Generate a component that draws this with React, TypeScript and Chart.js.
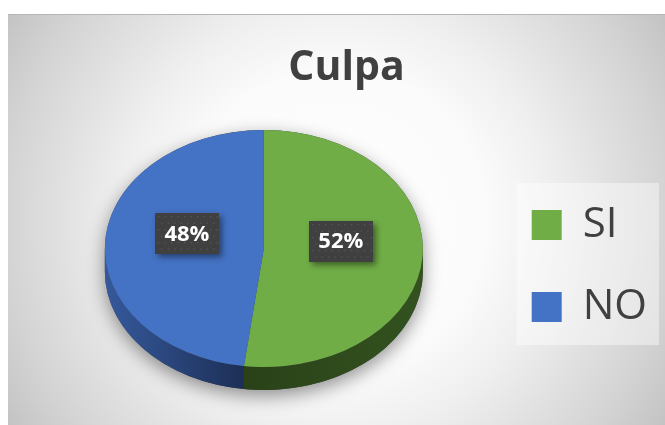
import React, { useEffect, useRef } from "react";
import { Chart, registerables } from "chart.js";

Chart.register(...registerables);

const categories = ["SI", "NO"];
const values = [52, 48];
const chartTitle = "Culpa";

const TOP_COLORS = ["#70AD47", "#4472C4"];
const SIDE_COLORS = [
  ["#2a4118", "#33521f"],
  ["#36599c", "#1c2f56"],
];

const FACE_CY = 248.5;
const SQUASH = 0.745;
const DEPTH = 23;

export default function App() {
  const ref = useRef<HTMLCanvasElement>(null);

  useEffect(() => {
    const canvas = ref.current;
    if (!canvas) return;
    const total = values.reduce((a, b) => a + b, 0);
    const percentLabels = values.map((v) => Math.round((v / total) * 100) + "%");

    const getArcs = (chart: any) =>
      chart
        .getDatasetMeta(0)
        .data.map((a: any) => a.getProps(["x", "y", "startAngle", "endAngle", "outerRadius"], true));

    const bgPlugin = {
      id: "bgFrame",
      beforeDraw(chart: any) {
        const ctx = chart.ctx as CanvasRenderingContext2D;
        ctx.save();
        ctx.fillStyle = "#ffffff";
        ctx.fillRect(0, 0, chart.width, chart.height);
        const fx = 8, fy = 14;
        const g = ctx.createRadialGradient(336, 220, 0, 336, 220, 392);
        g.addColorStop(0, "#ffffff");
        g.addColorStop(0.38, "#fbfbfb");
        g.addColorStop(0.55, "#efefef");
        g.addColorStop(0.85, "#d3d3d3");
        g.addColorStop(1, "#c2c2c2");
        ctx.fillStyle = g;
        ctx.fillRect(fx, fy, chart.width - fx, chart.height - fy);
        ctx.fillStyle = "#b6b6b6";
        ctx.fillRect(fx, fy, chart.width - fx, 1);
        const lg = chart.legend;
        if (lg && lg.columnSizes && lg.columnSizes.length) {
          const pad = lg.options.labels.padding;
          const colH = lg.columnSizes[0].height;
          const itemsTop = (lg.top + pad + lg.bottom - colH) / 2;
          ctx.fillStyle = "rgba(255,255,255,0.42)";
          ctx.fillRect(lg.left + 25, itemsTop - 21, lg.right - lg.left - 23, colH - 2);
        }
        ctx.restore();
      },
    };

    const pie3dPlugin = {
      id: "pie3d",
      beforeDatasetsDraw(chart: any) {
        const ctx = chart.ctx as CanvasRenderingContext2D;
        const arcs = getArcs(chart);
        ctx.save();
        if (!arcs.length) return;
        const cx = arcs[0].x, cy = arcs[0].y, R = arcs[0].outerRadius;
        const ry = R * SQUASH;
        // soft floor shadow
        ctx.save();
        ctx.shadowColor = "rgba(0,0,0,0.42)";
        ctx.shadowBlur = 18;
        ctx.shadowOffsetY = 6;
        ctx.beginPath();
        ctx.ellipse(cx, FACE_CY, R, ry, 0, Math.PI, 2 * Math.PI);
        ctx.lineTo(cx + R, FACE_CY + DEPTH);
        ctx.ellipse(cx, FACE_CY + DEPTH, R, ry, 0, 0, Math.PI);
        ctx.closePath();
        ctx.fillStyle = "#444";
        ctx.fill();
        ctx.restore();
        // side walls
        arcs.forEach((a: any, i: number) => {
          for (const shift of [0, 2 * Math.PI, -2 * Math.PI]) {
            const s = Math.max(a.startAngle, shift);
            const e = Math.min(a.endAngle, shift + Math.PI);
            if (e <= s) continue;
            ctx.beginPath();
            ctx.ellipse(cx, FACE_CY, R, ry, 0, s, e);
            ctx.ellipse(cx, FACE_CY + DEPTH, R, ry, 0, e, s, true);
            ctx.closePath();
            const x0 = cx + R * Math.cos(s), x1 = cx + R * Math.cos(e);
            const g = ctx.createLinearGradient(Math.min(x0, x1), 0, Math.max(x0, x1) + 0.1, 0);
            g.addColorStop(0, SIDE_COLORS[i][0]);
            g.addColorStop(1, SIDE_COLORS[i][1]);
            ctx.fillStyle = g;
            ctx.fill();
          }
        });
        // squash the top face
        ctx.translate(0, FACE_CY - cy * SQUASH);
        ctx.scale(1, SQUASH);
      },
      afterDatasetsDraw(chart: any) {
        const ctx = chart.ctx as CanvasRenderingContext2D;
        ctx.restore();
        const arcs = getArcs(chart);
        arcs.forEach((a: any, i: number) => {
          const mid = (a.startAngle + a.endAngle) / 2;
          const r = a.outerRadius * 0.485;
          const px = a.x + Math.cos(mid) * r;
          const py = FACE_CY + Math.sin(mid) * r * SQUASH - 11;
          const w = 64, h = 41;
          const bx = Math.round(px - w / 2), by = Math.round(py - h / 2);
          ctx.save();
          ctx.shadowColor = "rgba(0,0,0,0.45)";
          ctx.shadowBlur = 6;
          ctx.shadowOffsetX = 3;
          ctx.shadowOffsetY = 3;
          ctx.fillStyle = "#404040";
          ctx.fillRect(bx, by, w, h);
          ctx.restore();
          ctx.save();
          ctx.fillStyle = "#565656";
          let row = 0;
          for (let yy = by + 3; yy < by + h - 1; yy += 6.5, row++) {
            for (let xx = bx + 3 + (row % 2) * 3.25; xx < bx + w - 1; xx += 6.5) {
              ctx.fillRect(xx, yy, 1.3, 1.3);
            }
          }
          ctx.fillStyle = "#ffffff";
          ctx.font = "bold 22px 'Open Sans'";
          ctx.textAlign = "center";
          ctx.textBaseline = "middle";
          ctx.fillText(percentLabels[i], px, py + 1);
          ctx.restore();
        });
      },
    };

    const chart = new Chart(canvas, {
      type: "pie",
      data: {
        labels: categories,
        datasets: [
          {
            data: values,
            backgroundColor: TOP_COLORS,
            borderWidth: 0,
            clip: false,
          } as any,
        ],
      },
      options: {
        responsive: false,
        animation: false,
        events: [],
        radius: 159,
        layout: { padding: { left: 36, right: 8, top: 0, bottom: 0 } },
        plugins: {
          title: {
            display: true,
            text: chartTitle,
            color: "#404040",
            font: { family: "'Open Sans'", size: 41, weight: "bold" },
            padding: { top: 44, bottom: 13.8 },
          },
          legend: {
            display: true,
            position: "right",
            fullSize: false,
            labels: {
              boxWidth: 30,
              boxHeight: 30,
              padding: 40,
              color: "#404040",
              font: { family: "'Open Sans'", size: 42 },
            },
          },
          tooltip: { enabled: false },
        },
      } as any,
      plugins: [bgPlugin, pie3dPlugin],
    });
    return () => chart.destroy();
  }, []);

  return (
    <div style={{ position: "absolute", left: 0, top: 0, width: 665, height: 425 }}>
      <canvas ref={ref} width={665} height={425} style={{ display: "block" }} />
    </div>
  );
}
